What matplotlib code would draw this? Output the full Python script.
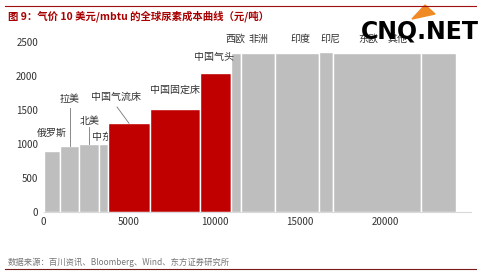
import matplotlib
matplotlib.use('Agg')
import matplotlib.pyplot as plt
from matplotlib.patches import Polygon

plt.rcParams['font.family'] = ['Noto Sans CJK SC', 'DejaVu Sans']

# 各地区产能(宽度)与成本(高度)
regions = ['俄罗斯', '拉美', '北美', '中东', '中国气流床', '中国固定床', '中国气头',
           '西欧', '非洲', '印度', '印尼', '东欧', '其他']
capacity = [940, 1160, 1120, 540, 2440, 2980, 1800, 590, 1980, 2540, 840, 5140, 2080]
cost = [890, 960, 1000, 1000, 1300, 1510, 2040, 2330, 2330, 2330, 2350, 2330, 2330]
is_china = [False, False, False, False, True, True, True,
            False, False, False, False, False, False]
xticks = [0, 5000, 10000, 15000, 20000]
yticks = [0, 500, 1000, 1500, 2000, 2500]

W, H = 484, 277
fig = plt.figure(figsize=(W / 100, H / 100), dpi=100)
ax = fig.add_axes([43.5 / W, 65.3 / H, 427.5 / W, 170 / H])

left = [sum(capacity[:i]) for i in range(len(capacity))]
colors = ['#c00000' if c else '#bfbebf' for c in is_china]
ax.bar(left, cost, width=capacity, align='edge', color=colors,
       edgecolor='white', linewidth=1.0, zorder=2)

ax.set_xlim(0, 25000)
ax.set_ylim(0, 2500)
ax.set_xticks(xticks)
ax.set_yticks(yticks)
ax.tick_params(length=0, labelsize=7, colors='#333333', pad=4)
for s in ['top', 'right', 'left']:
    ax.spines[s].set_visible(False)
ax.spines['bottom'].set_color('#d9d9d9')

mid = [l + c / 2 for l, c in zip(left, capacity)]
fs = 7.2
tc = '#333333'
ax.text(mid[0], 1080, regions[0], ha='center', va='bottom', fontsize=fs, color=tc)
ax.text(1500, 1580, regions[1], ha='center', va='bottom', fontsize=fs, color=tc)
ax.plot([1550, 1550], [1530, cost[1]], color='#777777', lw=0.6)
ax.text(2700, 1260, regions[2], ha='center', va='bottom', fontsize=fs, color=tc)
ax.plot([2680, 2680], [1250, cost[2]], color='#777777', lw=0.6)
# 中东标签被红色柱子挡住一部分
ax.text(2820, 1030, regions[3], ha='left', va='bottom', fontsize=fs, color=tc, zorder=1)
ax.text(4250, 1620, regions[4], ha='center', va='bottom', fontsize=fs, color=tc)
ax.plot([4300, 5000], [1540, cost[4]], color='#777777', lw=0.6)
ax.text(mid[5], 1720, regions[5], ha='center', va='bottom', fontsize=fs, color=tc)
ax.text(mid[6] - 100, 2200, regions[6], ha='center', va='bottom', fontsize=fs, color=tc)
top_x = [11200, 12600, 15000, 16800, 19000, 20700]
for name, x in zip(regions[7:], top_x):
    ax.text(x, 2470, name, ha='center', va='bottom', fontsize=fs,
            color=tc, clip_on=False)

# 标题和来源
fig.add_artist(plt.Line2D([5 / W, 476 / W], [1 - 6 / H, 1 - 6 / H], color='#a01010', lw=0.8))
fig.text(8 / W, 1 - 16 / H, '图 9：气价 10 美元/mbtu 的全球尿素成本曲线（元/吨）',
         fontsize=7.5, color='#a80000', fontweight='bold', va='center')
fig.text(8 / W, 1 - 262 / H, '数据来源：百川资讯、Bloomberg、Wind、东方证券研究所',
         fontsize=6, color='#777777', va='center')
fig.add_artist(plt.Line2D([5 / W, 476 / W], [1 - 269 / H, 1 - 269 / H], color='#7a1a1a', lw=0.8))

# 水印
fig.text(420 / W, 1 - 32 / H, 'CNQ.NET', fontsize=17, fontweight='bold',
         family='DejaVu Sans', color='black', ha='center', va='center', zorder=5)
fig.add_artist(Polygon([[412 / W, 1 - 19 / H], [425 / W, 1 - 5 / H], [435 / W, 1 - 14 / H]],
                       closed=True, color='#f08a24', transform=fig.transFigure))

fig.savefig('out.png', dpi=100)
